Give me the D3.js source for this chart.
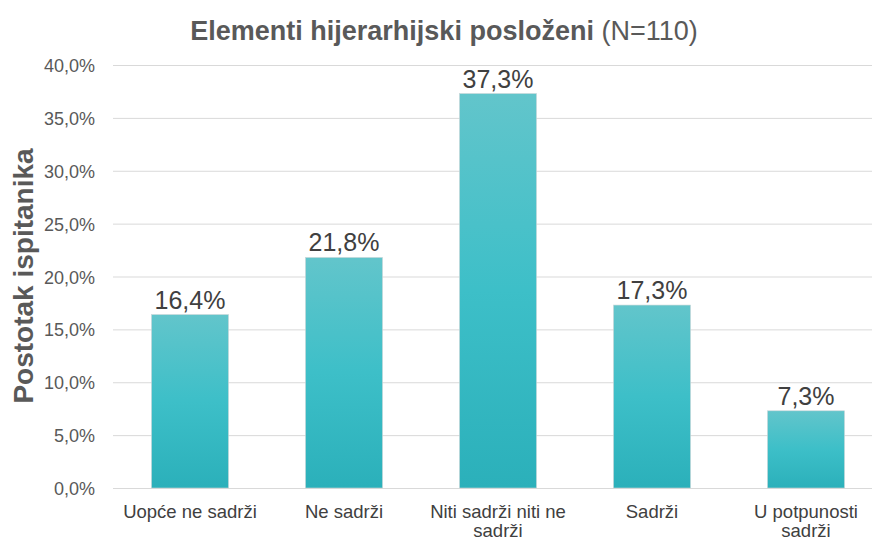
<!DOCTYPE html>
<html>
<head>
<meta charset="utf-8">
<script src="https://cdn.jsdelivr.net/npm/d3@7"></script>
<style>
  body { margin: 0; background: #fff; }
  svg { display: block; font-family: "Liberation Sans", Arial, sans-serif; }
  .grid line { stroke: #d9d9d9; stroke-width: 1; }
  .grid path { display: none; }
  .tick-label { fill: #595959; font-size: 18px; }
  .cat-label { fill: #404040; font-size: 18.5px; }
</style>
</head>
<body>
<div id="chart"></div>
<script>
const width = 872;
const height = 541;

const categories = [
  ["Uopće ne sadrži"],
  ["Ne sadrži"],
  ["Niti sadrži niti ne", "sadrži"],
  ["Sadrži"],
  ["U potpunosti", "sadrži"]
];
const values = [16.4, 21.8, 37.3, 17.3, 7.3];
const yTicks = [0, 5, 10, 15, 20, 25, 30, 35, 40];

const fmt = (v) => v.toFixed(1).replace(".", ",") + "%";

const svg = d3
  .select("#chart")
  .append("svg")
  .attr("width", width)
  .attr("height", height);

const defs = svg.append("defs");
const grad = defs
  .append("linearGradient")
  .attr("id", "barGrad")
  .attr("x1", 0).attr("y1", 0).attr("x2", 0).attr("y2", 1);
grad.append("stop").attr("offset", "0%").attr("stop-color", "#62c5cb");
grad.append("stop").attr("offset", "50%").attr("stop-color", "#3dbfc8");
grad.append("stop").attr("offset", "100%").attr("stop-color", "#2bb0ba");

const x = d3
  .scaleBand()
  .domain(d3.range(categories.length))
  .range([113, 883])
  .paddingInner(0.5)
  .paddingOuter(0.25);

const y = d3.scaleLinear().domain([0, 40]).range([488, 65]);

// gridlines
svg
  .append("g")
  .attr("class", "grid")
  .attr("transform", "translate(113,0)")
  .call(d3.axisLeft(y).tickValues(yTicks).tickSize(-770).tickFormat(""));

// y tick labels
svg
  .selectAll("text.tick-label")
  .data(yTicks)
  .join("text")
  .attr("class", "tick-label")
  .attr("x", 95)
  .attr("y", (d) => y(d) + 7)
  .attr("text-anchor", "end")
  .text((d) => fmt(d));

// bars
svg
  .selectAll("rect.bar")
  .data(values)
  .join("rect")
  .attr("class", "bar")
  .attr("x", (d, i) => x(i))
  .attr("y", (d) => y(d))
  .attr("width", x.bandwidth())
  .attr("height", (d) => y(0) - y(d))
  .attr("fill", "url(#barGrad)")
  .attr("stroke", "#c8d6d8")
  .attr("stroke-width", 0.6);

// value labels
svg
  .selectAll("text.val")
  .data(values)
  .join("text")
  .attr("class", "val")
  .attr("x", (d, i) => x(i) + x.bandwidth() / 2)
  .attr("y", (d) => y(d) - 6)
  .attr("text-anchor", "middle")
  .attr("font-size", 25)
  .attr("fill", "#404040")
  .text((d) => fmt(d));

// category labels
const cat = svg
  .selectAll("text.cat-label")
  .data(categories)
  .join("text")
  .attr("class", "cat-label")
  .attr("text-anchor", "middle")
  .attr("transform", (d, i) => `translate(${x(i) + x.bandwidth() / 2},518)`);
cat
  .selectAll("tspan")
  .data((d) => d)
  .join("tspan")
  .attr("x", 0)
  .attr("dy", (d, i) => (i === 0 ? 0 : 19))
  .text((d) => d);

// title
const title = svg
  .append("text")
  .attr("x", 444)
  .attr("y", 40)
  .attr("text-anchor", "middle")
  .attr("font-size", 27)
  .attr("fill", "#595959");
title.append("tspan").attr("font-weight", "bold").text("Elementi hijerarhijski posloženi ");
title.append("tspan").text("(N=110)");

// y axis title
svg
  .append("text")
  .attr("transform", "translate(33,276) rotate(-90)")
  .attr("text-anchor", "middle")
  .attr("font-size", 28)
  .attr("font-weight", "bold")
  .attr("fill", "#595959")
  .text("Postotak ispitanika");
</script>
</body>
</html>
